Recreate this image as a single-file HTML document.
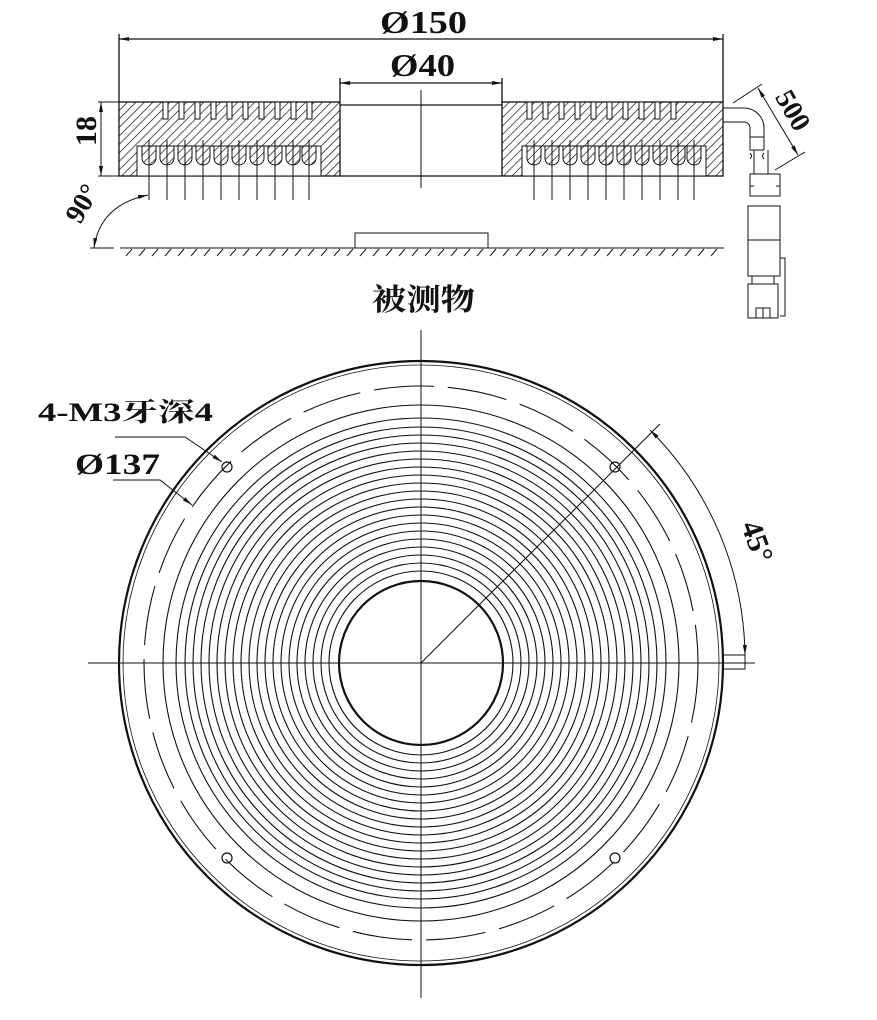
<!DOCTYPE html>
<html><head><meta charset="utf-8"><style>
html,body{margin:0;padding:0;background:#fff;}
svg{display:block;}
text{font-family:"Liberation Serif","Noto Serif CJK SC",serif;font-weight:bold;fill:#111;}
</style></head><body>
<svg width="877" height="1020" viewBox="0 0 877 1020" xmlns="http://www.w3.org/2000/svg">
<defs>
<pattern id="h" width="6" height="6" patternUnits="userSpaceOnUse" patternTransform="rotate(45)">
<line x1="0" y1="0" x2="0" y2="6" stroke="#111" stroke-width="1.4"/>
</pattern>
<marker id="a" viewBox="0 0 10 6" refX="10" refY="3" markerWidth="11" markerHeight="6" orient="auto-start-reverse" markerUnits="userSpaceOnUse">
<path d="M0,1 L10,3 L0,5z" fill="#111"/></marker>
</defs>
<g stroke="#111" fill="none" stroke-width="1.3">
<line x1="119" y1="34" x2="119" y2="102"/>
<line x1="723" y1="34" x2="723" y2="102"/>
<line x1="119" y1="39" x2="723" y2="39" marker-start="url(#a)" marker-end="url(#a)"/>
<line x1="340" y1="78" x2="340" y2="102"/>
<line x1="502" y1="78" x2="502" y2="102"/>
<line x1="340" y1="83" x2="502" y2="83" marker-start="url(#a)" marker-end="url(#a)"/>
<line x1="421" y1="90" x2="421" y2="188" stroke-width="1"/>
<rect x="119" y="102" width="221" height="74" fill="url(#h)"/>
<rect x="502" y="102" width="221" height="74" fill="url(#h)"/>
<line x1="340" y1="105" x2="502" y2="105"/>
<line x1="340" y1="176" x2="502" y2="176"/>
</g>
<g fill="#fff" stroke="#111" stroke-width="1">
<rect x="163" y="102" width="5" height="17"/><rect x="179" y="102" width="5" height="17"/><rect x="195" y="102" width="5" height="17"/><rect x="211" y="102" width="5" height="17"/><rect x="227" y="102" width="5" height="17"/><rect x="243" y="102" width="5" height="17"/><rect x="259" y="102" width="5" height="17"/><rect x="275" y="102" width="5" height="17"/><rect x="291" y="102" width="5" height="17"/><rect x="307" y="102" width="5" height="17"/>
<rect x="527" y="102" width="5" height="17"/><rect x="543" y="102" width="5" height="17"/><rect x="559" y="102" width="5" height="17"/><rect x="575" y="102" width="5" height="17"/><rect x="591" y="102" width="5" height="17"/><rect x="607" y="102" width="5" height="17"/><rect x="623" y="102" width="5" height="17"/><rect x="639" y="102" width="5" height="17"/><rect x="655" y="102" width="5" height="17"/><rect x="671" y="102" width="5" height="17"/>
<rect x="137" y="146" width="184" height="30"/>
<rect x="522" y="146" width="184" height="30"/>
</g>
<g fill="url(#h)" stroke="#111" stroke-width="1">
<path d="M142,146 v12 a7,7 0 0 0 14,0 v-12z"/><path d="M160,146 v12 a7,7 0 0 0 14,0 v-12z"/><path d="M178,146 v12 a7,7 0 0 0 14,0 v-12z"/><path d="M196,146 v12 a7,7 0 0 0 14,0 v-12z"/><path d="M214,146 v12 a7,7 0 0 0 14,0 v-12z"/><path d="M232,146 v12 a7,7 0 0 0 14,0 v-12z"/><path d="M250,146 v12 a7,7 0 0 0 14,0 v-12z"/><path d="M268,146 v12 a7,7 0 0 0 14,0 v-12z"/><path d="M286,146 v12 a7,7 0 0 0 14,0 v-12z"/><path d="M302,146 v12 a7,7 0 0 0 14,0 v-12z"/>
<path d="M527,146 v12 a7,7 0 0 0 14,0 v-12z"/><path d="M545,146 v12 a7,7 0 0 0 14,0 v-12z"/><path d="M563,146 v12 a7,7 0 0 0 14,0 v-12z"/><path d="M581,146 v12 a7,7 0 0 0 14,0 v-12z"/><path d="M599,146 v12 a7,7 0 0 0 14,0 v-12z"/><path d="M617,146 v12 a7,7 0 0 0 14,0 v-12z"/><path d="M635,146 v12 a7,7 0 0 0 14,0 v-12z"/><path d="M653,146 v12 a7,7 0 0 0 14,0 v-12z"/><path d="M671,146 v12 a7,7 0 0 0 14,0 v-12z"/><path d="M687,146 v12 a7,7 0 0 0 14,0 v-12z"/>
</g>
<g stroke="#111" stroke-width="1" fill="none">
<path d="M149,140V200M167,140V200M185,140V200M203,140V200M221,140V200M239,140V200M257,140V200M275,140V200M293,140V200M309,140V200"/>
<path d="M534,140V200M552,140V200M570,140V200M588,140V200M606,140V200M624,140V200M642,140V200M660,140V200M678,140V200M694,140V200"/>
<line x1="98" y1="102" x2="119" y2="102"/><line x1="98" y1="176" x2="119" y2="176"/>
<line x1="101" y1="102" x2="101" y2="176" marker-start="url(#a)" marker-end="url(#a)"/>
<path d="M148,195 Q100,205 94,248" marker-start="url(#a)" marker-end="url(#a)"/>
<line x1="90" y1="248" x2="114" y2="248"/>
<line x1="120" y1="248" x2="724" y2="248"/>
<rect x="355" y="233" width="133" height="15"/>
<path d="M126,256l6,-7M139,256l6,-7M152,256l6,-7M165,256l6,-7M178,256l6,-7M191,256l6,-7M204,256l6,-7M217,256l6,-7M230,256l6,-7M243,256l6,-7M256,256l6,-7M269,256l6,-7M282,256l6,-7M295,256l6,-7M308,256l6,-7M321,256l6,-7M334,256l6,-7M347,256l6,-7M360,256l6,-7M373,256l6,-7M386,256l6,-7M399,256l6,-7M412,256l6,-7M425,256l6,-7M438,256l6,-7M451,256l6,-7M464,256l6,-7M477,256l6,-7M490,256l6,-7M503,256l6,-7M516,256l6,-7M529,256l6,-7M542,256l6,-7M555,256l6,-7M568,256l6,-7M581,256l6,-7M594,256l6,-7M607,256l6,-7M620,256l6,-7M633,256l6,-7M646,256l6,-7M659,256l6,-7M672,256l6,-7M685,256l6,-7M698,256l6,-7M711,256l6,-7"/>
<!-- cable -->
<path d="M723,108 H744 a20,20 0 0 1 20,20 V150"/>
<path d="M723,122 H744 a6,6 0 0 1 6,6 V150"/>
<path d="M750,137 h14 M750,150 h14 M754,150 v24 M768,150 v24 M750,153 q3,3 0,6 M764,153 q-3,3 0,6"/>
<rect x="750" y="174" width="30" height="22"/>
<path d="M750,186 h4 M776,186 h4"/>
<rect x="748" y="206" width="32" height="70"/>
<line x1="748" y1="240" x2="780" y2="240"/>
<rect x="752" y="276" width="22" height="8"/>
<rect x="748" y="284" width="30" height="34"/>
<path d="M780,258 h5 v58 h-5 M756,318 v-10 h14 v10 M763,308 v10"/>
<line x1="733" y1="103" x2="762" y2="84"/>
<line x1="775" y1="170" x2="805" y2="152"/>
<line x1="758" y1="88" x2="798" y2="155" marker-start="url(#a)" marker-end="url(#a)"/>
</g>
<text x="380" y="33" font-size="32" textLength="87" lengthAdjust="spacingAndGlyphs">Ø150</text>
<text x="390" y="76" font-size="32" textLength="65" lengthAdjust="spacingAndGlyphs">Ø40</text>
<text x="0" y="0" font-size="30" text-anchor="middle" transform="translate(96,131) rotate(-90)">18</text>
<text x="0" y="0" font-size="28" text-anchor="middle" transform="translate(90,208) rotate(-60)">90°</text>
<text x="0" y="0" font-size="28" text-anchor="middle" transform="translate(785,115) rotate(60)">500</text>
<text x="372" y="310" font-size="30" textLength="103" lengthAdjust="spacingAndGlyphs" font-family="'Noto Sans CJK SC',sans-serif" font-weight="900">被测物</text>

<g stroke="#111" fill="none">
<line x1="421" y1="330" x2="421" y2="998" stroke-width="1"/>
<line x1="88" y1="663" x2="755" y2="663" stroke-width="1"/>
<circle cx="421" cy="663" r="302" stroke-width="2.2"/>
<circle cx="421" cy="663" r="298" stroke-width="0.8"/>
<circle cx="421" cy="663" r="277" stroke-width="1.1" stroke-dasharray="60,14"/>
<circle cx="421" cy="663" r="82" stroke-width="2.2"/>
<g stroke-width="1.1">
<circle cx="421" cy="663" r="92"/><circle cx="421" cy="663" r="100"/><circle cx="421" cy="663" r="108"/><circle cx="421" cy="663" r="116"/><circle cx="421" cy="663" r="124"/><circle cx="421" cy="663" r="132"/><circle cx="421" cy="663" r="140"/><circle cx="421" cy="663" r="148"/><circle cx="421" cy="663" r="156"/><circle cx="421" cy="663" r="164"/><circle cx="421" cy="663" r="172"/><circle cx="421" cy="663" r="180"/><circle cx="421" cy="663" r="188"/><circle cx="421" cy="663" r="196"/><circle cx="421" cy="663" r="204"/><circle cx="421" cy="663" r="212"/><circle cx="421" cy="663" r="220"/><circle cx="421" cy="663" r="228"/><circle cx="421" cy="663" r="236"/><circle cx="421" cy="663" r="245"/><circle cx="421" cy="663" r="258"/>
</g>
<line x1="421" y1="663" x2="660" y2="424" stroke-width="1"/>
<g stroke-width="1.2">
<circle cx="227" cy="467" r="5"/><circle cx="615" cy="467" r="5"/><circle cx="227" cy="858" r="5"/><circle cx="615" cy="858" r="5"/>
</g>
<path d="M650,430 A325,325 0 0 1 745,655" stroke-width="1" marker-start="url(#a)" marker-end="url(#a)"/>
<path d="M723,655 h22 v14 h-22" stroke-width="1"/>
<path d="M115,437 H185 L222,462" stroke-width="1" marker-end="url(#a)"/>
<path d="M113,480 H160 L192,505" stroke-width="1" marker-end="url(#a)"/>
</g>
<text x="38" y="421" font-size="26" textLength="175" lengthAdjust="spacingAndGlyphs" font-family="'Liberation Serif','Noto Sans CJK SC',serif">4-M3牙深4</text>
<text x="75" y="474" font-size="30" textLength="85" lengthAdjust="spacingAndGlyphs">Ø137</text>
<text x="0" y="0" font-size="30" text-anchor="middle" transform="translate(748,545) rotate(70)">45°</text>
</svg>
</body></html>
